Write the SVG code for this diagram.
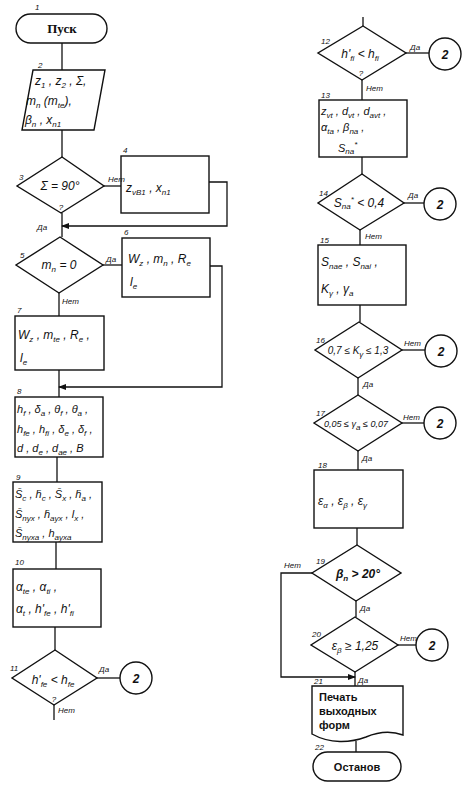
<svg xmlns="http://www.w3.org/2000/svg" width="466" height="793" viewBox="0 0 466 793">
<style>
.sh{fill:none;stroke:#111;stroke-width:1.4}
.cn{fill:none;stroke:#111;stroke-width:1.3}
.t{font-family:"Liberation Sans",Arial,sans-serif;font-style:italic;font-size:12px;fill:#111}
.c{text-anchor:middle}
.s{font-size:8px}
.n{font-family:"Liberation Sans",Arial,sans-serif;font-style:italic;font-size:8px;fill:#111}
.l{font-family:"Liberation Sans",Arial,sans-serif;font-style:italic;font-size:8px;fill:#111}
.b{font-family:"Liberation Sans",Arial,sans-serif;font-weight:bold;font-size:11px;fill:#111}
</style>
<defs>
<marker id="ar" markerWidth="8" markerHeight="6" refX="7" refY="3" orient="auto" markerUnits="userSpaceOnUse">
<path d="M0,0 L8,3 L0,6 Z" fill="#111"/>
</marker>
</defs>
<rect width="466" height="793" fill="#fff"/>

<g id="connectors">
<path class="cn" d="M62,43 V70"/>
<path class="cn" d="M62,130 V157"/>
<path class="cn" d="M104,186 H121"/>
<path class="cn" d="M209,182 H227 V226 H62" marker-end="url(#ar)"/>
<path class="cn" d="M62,213 V237"/>
<path class="cn" d="M103,265 H122"/>
<path class="cn" d="M210,266 H222 V387 H59" marker-end="url(#ar)"/>
<path class="cn" d="M59,293 V316"/>
<path class="cn" d="M59,370 V397"/>
<path class="cn" d="M57,457 V482"/>
<path class="cn" d="M56,542 V569"/>
<path class="cn" d="M55,627 V650"/>
<path class="cn" d="M97,678 H120"/>
<path class="cn" d="M54,705 V720"/>
<path class="cn" d="M363,17 V26"/>
<path class="cn" d="M406,53 H429"/>
<path class="cn" d="M362,80 V100"/>
<path class="cn" d="M362,157 V174"/>
<path class="cn" d="M404,203 H424"/>
<path class="cn" d="M360,230 V245"/>
<path class="cn" d="M360,305 V322"/>
<path class="cn" d="M402,350 H425"/>
<path class="cn" d="M358,378 V395"/>
<path class="cn" d="M402,423 H424"/>
<path class="cn" d="M358,451 V470"/>
<path class="cn" d="M357,528 V545"/>
<path class="cn" d="M312,573 H281 V677 H355" marker-end="url(#ar)"/>
<path class="cn" d="M356,601 V617"/>
<path class="cn" d="M398,645 H416"/>
<path class="cn" d="M355,672 V686"/>
<path class="cn" d="M356,741 V752"/>
</g>

<g id="n1">
<rect class="sh" x="16" y="14" width="91" height="29" rx="14.5"/>
<text class="b c" x="62" y="33" style="font-family:'Liberation Serif',serif;font-size:13px">Пуск</text>
<text class="n" x="35" y="10">1</text>
</g>

<g id="n2">
<path class="sh" d="M33,70 H105 L94,130 H22 Z"/>
<text class="n" x="38" y="68">2</text>
<text class="t" x="35" y="85">z<tspan class="s" dy="3">1</tspan><tspan dy="-3"> , z</tspan><tspan class="s" dy="3">2</tspan><tspan dy="-3"> , Σ,</tspan></text>
<text class="t" x="26" y="105">m<tspan class="s" dy="3">n</tspan><tspan dy="-3"> (m</tspan><tspan class="s" dy="3">te</tspan><tspan dy="-3">),</tspan></text>
<text class="t" x="25" y="124">β<tspan class="s" dy="3">n</tspan><tspan dy="-3"> , x</tspan><tspan class="s" dy="3">n1</tspan></text>
</g>

<g id="n3">
<path class="sh" d="M62,157 L104,186 L61,213 L17,186 Z"/>
<text class="n" x="19" y="180">3</text>
<text class="t c" x="60" y="190">Σ = 90°</text>
<text class="n c" x="61" y="210">?</text>
<text class="l" x="108" y="182">Нет</text>
<text class="l" x="37" y="230">Да</text>
</g>

<g id="n4">
<rect class="sh" x="121" y="156" width="88" height="57"/>
<text class="n" x="123" y="153">4</text>
<text class="t" x="126" y="192">z<tspan class="s" dy="3">vB1</tspan><tspan dy="-3"> , x</tspan><tspan class="s" dy="3">n1</tspan></text>
</g>

<g id="n5">
<path class="sh" d="M60,237 L103,265 L59,293 L16,265 Z"/>
<text class="n" x="20" y="258">5</text>
<text class="t c" x="59" y="269">m<tspan class="s" dy="3">n</tspan><tspan dy="-3"> = 0</tspan></text>
<text class="l" x="106" y="262">Да</text>
<text class="l" x="62" y="304">Нет</text>
</g>

<g id="n6">
<rect class="sh" x="122" y="238" width="88" height="59"/>
<text class="n" x="124" y="235">6</text>
<text class="t" x="128" y="263">W<tspan class="s" dy="3">z</tspan><tspan dy="-3"> , m</tspan><tspan class="s" dy="3">n</tspan><tspan dy="-3"> , R</tspan><tspan class="s" dy="3">e</tspan></text>
<text class="t" x="130" y="286">l<tspan class="s" dy="3">e</tspan></text>
</g>

<g id="n7">
<rect class="sh" x="15" y="316" width="89" height="54"/>
<text class="n" x="17" y="313">7</text>
<text class="t" x="18" y="339">W<tspan class="s" dy="3">z</tspan><tspan dy="-3"> , m</tspan><tspan class="s" dy="3">te</tspan><tspan dy="-3"> , R</tspan><tspan class="s" dy="3">e</tspan><tspan dy="-3"> ,</tspan></text>
<text class="t" x="20" y="362">l<tspan class="s" dy="3">e</tspan></text>
</g>

<g id="n8">
<rect class="sh" x="15" y="397" width="88" height="60"/>
<text class="n" x="17" y="394">8</text>
<text class="t" x="17" y="413" style="font-size:11px">h<tspan class="s" dy="3">f</tspan><tspan dy="-3"> , δ</tspan><tspan class="s" dy="3">a</tspan><tspan dy="-3"> , θ</tspan><tspan class="s" dy="3">f</tspan><tspan dy="-3"> , θ</tspan><tspan class="s" dy="3">a</tspan><tspan dy="-3"> ,</tspan></text>
<text class="t" x="17" y="433" style="font-size:11px">h<tspan class="s" dy="3">fe</tspan><tspan dy="-3"> , h</tspan><tspan class="s" dy="3">fi</tspan><tspan dy="-3"> , δ</tspan><tspan class="s" dy="3">e</tspan><tspan dy="-3"> , δ</tspan><tspan class="s" dy="3">f</tspan><tspan dy="-3"> ,</tspan></text>
<text class="t" x="17" y="452" style="font-size:11px">d , d<tspan class="s" dy="3">e</tspan><tspan dy="-3"> , d</tspan><tspan class="s" dy="3">ae</tspan><tspan dy="-3"> , B</tspan></text>
</g>

<g id="n9">
<rect class="sh" x="13" y="482" width="89" height="60"/>
<text class="n" x="16" y="480">9</text>
<text class="t" x="15" y="498" style="font-size:11px">S̄<tspan class="s" dy="3">c</tspan><tspan dy="-3"> , h̄</tspan><tspan class="s" dy="3">c</tspan><tspan dy="-3"> , S̄</tspan><tspan class="s" dy="3">x</tspan><tspan dy="-3"> , h̄</tspan><tspan class="s" dy="3">a</tspan><tspan dy="-3"> ,</tspan></text>
<text class="t" x="15" y="518" style="font-size:11px">S̄<tspan class="s" dy="3">nyx</tspan><tspan dy="-3"> , h̄</tspan><tspan class="s" dy="3">ayx</tspan><tspan dy="-3"> , l</tspan><tspan class="s" dy="3">x</tspan><tspan dy="-3"> ,</tspan></text>
<text class="t" x="15" y="537" style="font-size:11px">S̄<tspan class="s" dy="3">nyxa</tspan><tspan dy="-3"> , h</tspan><tspan class="s" dy="3">ayxa</tspan></text>
</g>

<g id="n10">
<rect class="sh" x="13" y="569" width="88" height="58"/>
<text class="n" x="15" y="565">10</text>
<text class="t" x="16" y="591">α<tspan class="s" dy="3">te</tspan><tspan dy="-3"> , α</tspan><tspan class="s" dy="3">ti</tspan><tspan dy="-3"> ,</tspan></text>
<text class="t" x="16" y="613">α<tspan class="s" dy="3">t</tspan><tspan dy="-3"> , h'</tspan><tspan class="s" dy="3">fe</tspan><tspan dy="-3"> , h'</tspan><tspan class="s" dy="3">fi</tspan></text>
</g>

<g id="n11">
<path class="sh" d="M55,650 L97,678 L54,705 L12,678 Z"/>
<text class="n" x="10" y="671">11</text>
<text class="t c" x="53" y="684">h'<tspan class="s" dy="3">fe</tspan><tspan dy="-3"> &lt; h</tspan><tspan class="s" dy="3">fe</tspan></text>
<text class="n c" x="54" y="702">?</text>
<text class="l" x="99" y="672">Да</text>
<text class="l" x="58" y="713">Нет</text>
</g>
<g id="c11">
<circle class="sh" cx="136" cy="678" r="16"/>
<text class="t c" x="136" y="683" style="font-weight:bold">2</text>
</g>

<g id="n12">
<path class="sh" d="M363,26 L406,53 L362,80 L318,53 Z"/>
<text class="n" x="321" y="44">12</text>
<text class="t c" x="360" y="58">h'<tspan class="s" dy="3">fi</tspan><tspan dy="-3"> &lt; h</tspan><tspan class="s" dy="3">fi</tspan></text>
<text class="n c" x="361" y="76">?</text>
<text class="l" x="410" y="50">Да</text>
<text class="l" x="366" y="91">Нет</text>
</g>
<g id="c12">
<circle class="sh" cx="445" cy="54" r="16"/>
<text class="t c" x="445" y="59" style="font-weight:bold">2</text>
</g>

<g id="n13">
<rect class="sh" x="319" y="100" width="88" height="57"/>
<text class="n" x="321" y="98">13</text>
<text class="t" x="321" y="115" style="font-size:11px">z<tspan class="s" dy="3">vt</tspan><tspan dy="-3"> , d</tspan><tspan class="s" dy="3">vt</tspan><tspan dy="-3"> , d</tspan><tspan class="s" dy="3">avt</tspan><tspan dy="-3"> ,</tspan></text>
<text class="t" x="321" y="131" style="font-size:11px">α<tspan class="s" dy="3">ta</tspan><tspan dy="-3"> , β</tspan><tspan class="s" dy="3">na</tspan><tspan dy="-3"> ,</tspan></text>
<text class="t" x="338" y="152" style="font-size:11px">S<tspan class="s" dy="2">na</tspan><tspan class="s" dy="-7">*</tspan></text>
</g>

<g id="n14">
<path class="sh" d="M362,174 L404,203 L360,230 L318,203 Z"/>
<text class="n" x="319" y="196">14</text>
<text class="t c" x="359" y="207">S<tspan class="s" dy="2">na</tspan><tspan class="s" dy="-7">*</tspan><tspan dy="5"> &lt; 0,4</tspan></text>
<text class="l" x="408" y="198">Да</text>
<text class="l" x="365" y="239">Нет</text>
</g>
<g id="c14">
<circle class="sh" cx="440" cy="204" r="16"/>
<text class="t c" x="440" y="209" style="font-weight:bold">2</text>
</g>

<g id="n15">
<rect class="sh" x="318" y="245" width="88" height="60"/>
<text class="n" x="320" y="243">15</text>
<text class="t" x="321" y="266">S<tspan class="s" dy="3">nae</tspan><tspan dy="-3"> , S</tspan><tspan class="s" dy="3">nai</tspan><tspan dy="-3"> ,</tspan></text>
<text class="t" x="321" y="293">K<tspan class="s" dy="3">γ</tspan><tspan dy="-3"> ,  γ</tspan><tspan class="s" dy="3">a</tspan></text>
</g>

<g id="n16">
<path class="sh" d="M359,322 L402,350 L358,378 L315,350 Z"/>
<text class="n" x="316" y="343">16</text>
<text class="t c" x="358" y="354" style="font-size:10px">0,7 ≤ K<tspan class="s" dy="3">γ</tspan><tspan dy="-3"> ≤ 1,3</tspan></text>
<text class="l" x="404" y="346">Нет</text>
<text class="l" x="363" y="387">Да</text>
</g>
<g id="c16">
<circle class="sh" cx="441" cy="351" r="16"/>
<text class="t c" x="441" y="356" style="font-weight:bold">2</text>
</g>

<g id="n17">
<path class="sh" d="M358,395 L402,423 L358,451 L314,423 Z"/>
<text class="n" x="316" y="416">17</text>
<text class="t c" x="356" y="427" style="font-size:9px">0,05 ≤ γ<tspan class="s" dy="3">a</tspan><tspan dy="-3"> ≤ 0,07</tspan></text>
<text class="l" x="403" y="420">Нет</text>
<text class="l" x="362" y="461">Да</text>
</g>
<g id="c17">
<circle class="sh" cx="440" cy="423" r="16"/>
<text class="t c" x="440" y="428" style="font-weight:bold">2</text>
</g>

<g id="n18">
<rect class="sh" x="314" y="470" width="89" height="58"/>
<text class="n" x="318" y="468">18</text>
<text class="t" x="318" y="505">ε<tspan class="s" dy="3">α</tspan><tspan dy="-3"> , ε</tspan><tspan class="s" dy="3">β</tspan><tspan dy="-3"> , ε</tspan><tspan class="s" dy="3">γ</tspan></text>
</g>

<g id="n19">
<path class="sh" d="M357,545 L401,573 L356,601 L312,573 Z"/>
<text class="n" x="316" y="564">19</text>
<text class="t c" x="358" y="578" style="font-weight:bold">β<tspan class="s" dy="3">n</tspan><tspan dy="-3"> &gt; 20°</tspan></text>
<text class="l" x="284" y="568">Нет</text>
<text class="l" x="360" y="611">Да</text>
</g>

<g id="n20">
<path class="sh" d="M355,617 L398,645 L355,672 L311,645 Z"/>
<text class="n" x="312" y="637">20</text>
<text class="t c" x="355" y="650">ε<tspan class="s" dy="3">β</tspan><tspan dy="-3"> ≥ 1,25</tspan></text>
<text class="l" x="400" y="641">Нет</text>
<text class="l" x="358" y="683">Да</text>
</g>
<g id="c20">
<circle class="sh" cx="432" cy="645" r="16"/>
<text class="t c" x="432" y="650" style="font-weight:bold">2</text>
</g>

<g id="n21">
<path class="sh" d="M312,686 H403 V735 C392,731 378,732 366,737 C350,743 330,744 312,734 Z"/>
<text class="n" x="314" y="684">21</text>
<text class="b" x="319" y="701">Печать</text>
<text class="b" x="319" y="715">выходных</text>
<text class="b" x="319" y="729">форм</text>
</g>

<g id="n22">
<rect class="sh" x="313" y="752" width="88" height="29" rx="14.5"/>
<text class="n" x="315" y="750">22</text>
<text class="b c" x="357" y="771">Останов</text>
</g>
</svg>
